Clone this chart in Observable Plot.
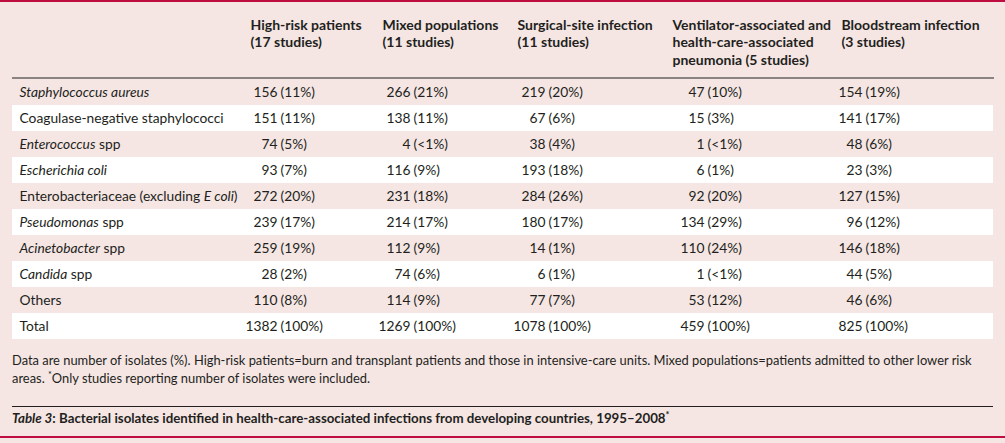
<!DOCTYPE html>
<html><head><meta charset="utf-8">
<script src="https://cdn.jsdelivr.net/npm/d3@7"></script>
<script src="https://cdn.jsdelivr.net/npm/@observablehq/plot@0.6"></script>
<style>
html,body{margin:0;padding:0;}
body{width:1005px;height:443px;background:#f5e6e4;position:relative;overflow:hidden;font-family:Lato,sans-serif;color:#231f20;}
#topbar{position:absolute;left:0;top:0;width:1005px;height:2px;background:#c00d3f;}
#chart{position:absolute;left:0;top:0;}
#note{position:absolute;left:12px;top:351px;font-size:12.9px;line-height:18px;white-space:nowrap;}
#rule{position:absolute;left:12px;top:406px;width:981px;height:1px;background:#231f20;}
#caption{position:absolute;left:12px;top:410px;font-size:13.3px;font-weight:700;line-height:16px;white-space:nowrap;}
#bottombar{position:absolute;left:0;top:436px;width:1005px;height:2px;background:#c00d3f;}
sup{font-size:0.7em;line-height:0;}
</style></head>
<body>
<div id="chart"></div>
<div id="topbar"></div>
<div id="note"></div>
<div id="rule"></div>
<div id="caption"></div>
<div id="bottombar"></div>
<script>
const categories = ["Staphylococcus aureus","Coagulase-negative staphylococci","Enterococcus spp","Escherichia coli","Enterobacteriaceae (excluding E coli)","Pseudomonas spp","Acinetobacter spp","Candida spp","Others","Total"];
const italicTerms = ["Staphylococcus aureus","Escherichia coli","Enterococcus","Pseudomonas","Acinetobacter","Candida","E coli"];
const columnHeaders = ["High-risk patients\n(17 studies)","Mixed populations\n(11 studies)","Surgical-site infection\n(11 studies)","Ventilator-associated and\nhealth-care-associated\npneumonia (5 studies)","Bloodstream infection\n(3 studies)"];

const highRiskN   = [156,151,74,93,272,239,259,28,110,1382];
const highRiskPct = ["11%","11%","5%","7%","20%","17%","19%","2%","8%","100%"];
const mixedN      = [266,138,4,116,231,214,112,74,114,1269];
const mixedPct    = ["21%","11%","<1%","9%","18%","17%","9%","6%","9%","100%"];
const surgicalN   = [219,67,38,193,284,180,14,6,77,1078];
const surgicalPct = ["20%","6%","4%","18%","26%","17%","1%","1%","7%","100%"];
const ventN       = [47,15,1,6,92,134,110,1,53,459];
const ventPct     = ["10%","3%","<1%","1%","20%","29%","24%","<1%","12%","100%"];
const bloodN      = [154,141,48,23,127,96,146,44,46,825];
const bloodPct    = ["19%","17%","6%","3%","15%","12%","18%","5%","6%","100%"];

const footnoteLines = ["Data are number of isolates (%). High-risk patients=burn and transplant patients and those in intensive-care units. Mixed populations=patients admitted to other lower risk", "areas. <sup>*</sup>Only studies reporting number of isolates were included."];
const captionLabel = "Table 3";
const captionText = ": Bacterial isolates identified in health-care-associated infections from developing countries, 1995–2008<sup>*</sup>";

const columns = [
  {n: highRiskN, pct: highRiskPct},
  {n: mixedN, pct: mixedPct},
  {n: surgicalN, pct: surgicalPct},
  {n: ventN, pct: ventPct},
  {n: bloodN, pct: bloodPct}
];
const cells = [];
columns.forEach((c, j) => categories.forEach((cat, i) => cells.push({row: cat, col: j, n: c.n[i], pct: c.pct[i]})));

const ink = "#231f20";
const chart = Plot.plot({
  width: 1005,
  height: 340,
  marginTop: 79,
  marginBottom: 1,
  marginLeft: 12,
  marginRight: 12,
  style: {background: "transparent", fontFamily: "Lato, sans-serif", fontSize: "13.8px", color: ink, overflow: "visible"},
  x: {type: "ordinal", axis: null,
      domain: ["label","h0","h1","h2","h3","h4","v0","v1","v2","v3","v4"],
      range:  [19, 250, 382, 517, 672, 841, 277, 410, 545, 704, 862]},
  y: {type: "band", domain: categories, padding: 0, axis: null},
  marks: [
    Plot.cell(categories, {y: d => d, fill: "white", filter: (d, i) => i % 2 === 1}),
    Plot.frame({anchor: "top", stroke: ink, dy: -1.5}),
    Plot.text(columnHeaders, {x: (d, i) => "h" + i, frameAnchor: "top", lineAnchor: "top", dy: -62, textAnchor: "start", fontWeight: 700, fontSize: 14, lineHeight: 1.25}),
    Plot.text(categories, {x: () => "label", y: d => d, textAnchor: "start"}),
    Plot.text(cells, {x: d => "v" + d.col, y: "row", text: d => String(d.n), textAnchor: "end"}),
    Plot.text(cells, {x: d => "v" + d.col, y: "row", text: d => `(${d.pct})`, textAnchor: "start", dx: 3})
  ]
});
document.getElementById("chart").append(chart);

const re = new RegExp("(" + italicTerms.join("|") + ")");
const catSet = new Set(categories);
d3.select(chart).selectAll("text").each(function() {
  const t = this.textContent;
  if (!catSet.has(t) || this.querySelector("tspan")) return;
  const parts = t.split(re).filter(s => s);
  const sel = d3.select(this);
  sel.text(null);
  parts.forEach(p => sel.append("tspan").attr("font-style", italicTerms.includes(p) ? "italic" : null).text(p));
});

document.getElementById("note").innerHTML = footnoteLines.join("<br>");
document.getElementById("caption").innerHTML = `<i>${captionLabel}</i>${captionText}`;
</script>
</body></html>
